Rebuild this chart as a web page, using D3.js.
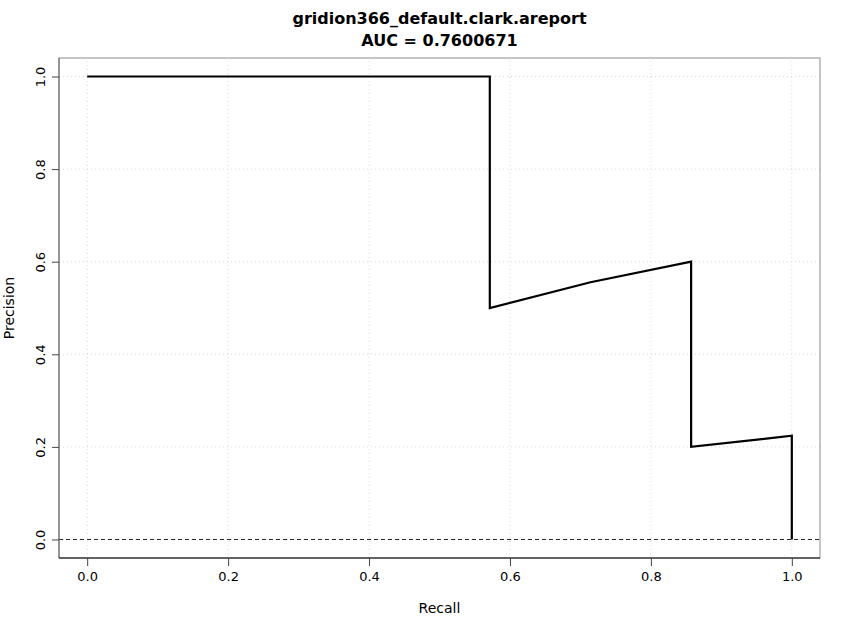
<!DOCTYPE html>
<html><head><meta charset="utf-8">
<script src="https://cdn.jsdelivr.net/npm/d3@7"></script>
<style>body{margin:0;background:#fff}svg{display:block}text{font-family:"DejaVu Sans",sans-serif}</style>
</head><body><div id="chart"></div>
<script>
const titleLines = ["gridion366_default.clark.areport", "AUC = 0.7600671"];
const xLabel = "Recall";
const yLabel = "Precision";
const xTicks = [0, 0.2, 0.4, 0.6, 0.8, 1.0];
const yTicks = [0, 0.2, 0.4, 0.6, 0.8, 1.0];
const recall =    [0, 0.5714, 0.5714, 0.7143, 0.8571, 0.8571, 1.0, 1.0];
const precision = [1, 1, 0.5, 0.5556, 0.6, 0.2, 0.224, 0];
const baseline = 0;

const W = 850, H = 632;
const m = {left: 59, right: 30, top: 58, bottom: 74};
const svg = d3.select("#chart").append("svg").attr("width", W).attr("height", H);
const x = d3.scaleLinear().domain([-0.04, 1.04]).range([m.left, W - m.right]);
const y = d3.scaleLinear().domain([-0.04, 1.04]).range([H - m.bottom, m.top]);
const x0 = x.range()[0], x1 = x.range()[1], y0 = y.range()[0], y1 = y.range()[1];

// grid
const g = svg.append("g");
g.selectAll(".gx").data(xTicks).join("line")
  .attr("x1", d => x(d)).attr("x2", d => x(d)).attr("y1", y0).attr("y2", y1)
  .attr("stroke", "#d9d9d9").attr("stroke-dasharray", "1,3");
g.selectAll(".gy").data(yTicks).join("line")
  .attr("y1", d => y(d)).attr("y2", d => y(d)).attr("x1", x0).attr("x2", x1)
  .attr("stroke", "#d9d9d9").attr("stroke-dasharray", "1,3");

// baseline dashed
svg.append("line").attr("x1", x0).attr("x2", x1).attr("y1", y(baseline)).attr("y2", y(baseline))
  .attr("stroke", "#222").attr("stroke-dasharray", "4,3").attr("stroke-width", 1);

// curve
const pts = recall.map((r, i) => [r, precision[i]]);
svg.append("path").datum(pts)
  .attr("d", d3.line().x(d => x(d[0])).y(d => y(d[1])))
  .attr("fill", "none").attr("stroke", "#000").attr("stroke-width", 2.2)
  .attr("stroke-linejoin", "miter");

// box
svg.append("rect").attr("x", x0).attr("y", y1).attr("width", x1 - x0).attr("height", y0 - y1)
  .attr("fill", "none").attr("stroke", "#8c8c8c");
svg.append("line").attr("x1", x0).attr("x2", x0).attr("y1", y1).attr("y2", y0).attr("stroke", "#666");
svg.append("line").attr("x1", x0).attr("x2", x1).attr("y1", y0).attr("y2", y0).attr("stroke", "#000");

// axes
const xa = svg.append("g").attr("transform", `translate(0,${y0})`)
  .call(d3.axisBottom(x).tickValues(xTicks).tickFormat(d3.format(".1f")).tickSize(8).tickPadding(6));
xa.select(".domain").remove();
xa.selectAll("line").attr("stroke", "#444");
xa.selectAll("text").attr("font-size", 13).attr("fill", "#000").attr("font-family", '"DejaVu Sans",sans-serif');

const ya = svg.append("g").attr("transform", `translate(${x0},0)`)
  .call(d3.axisLeft(y).tickValues(yTicks).tickFormat(d3.format(".1f")).tickSize(7).tickPadding(6));
ya.select(".domain").remove();
ya.selectAll("line").attr("stroke", "#444");
ya.selectAll("text").attr("font-size", 13).attr("fill", "#000").attr("font-family", '"DejaVu Sans",sans-serif')
  .attr("text-anchor", "middle").attr("dy", null).attr("x", 0).attr("y", -14)
  .attr("transform", "rotate(-90)");

// labels
svg.append("text").attr("x", (x0 + x1) / 2).attr("y", 613).attr("text-anchor", "middle")
  .attr("font-size", 14).text(xLabel);
svg.append("text").attr("transform", `translate(14,${(y0 + y1) / 2}) rotate(-90)`).attr("text-anchor", "middle")
  .attr("font-size", 14).text(yLabel);
svg.selectAll(".title").data(titleLines).join("text")
  .attr("x", (x0 + x1) / 2).attr("y", (d, i) => 24 + i * 22).attr("text-anchor", "middle")
  .attr("font-size", 16).attr("font-weight", "bold").text(d => d);
</script></body></html>
